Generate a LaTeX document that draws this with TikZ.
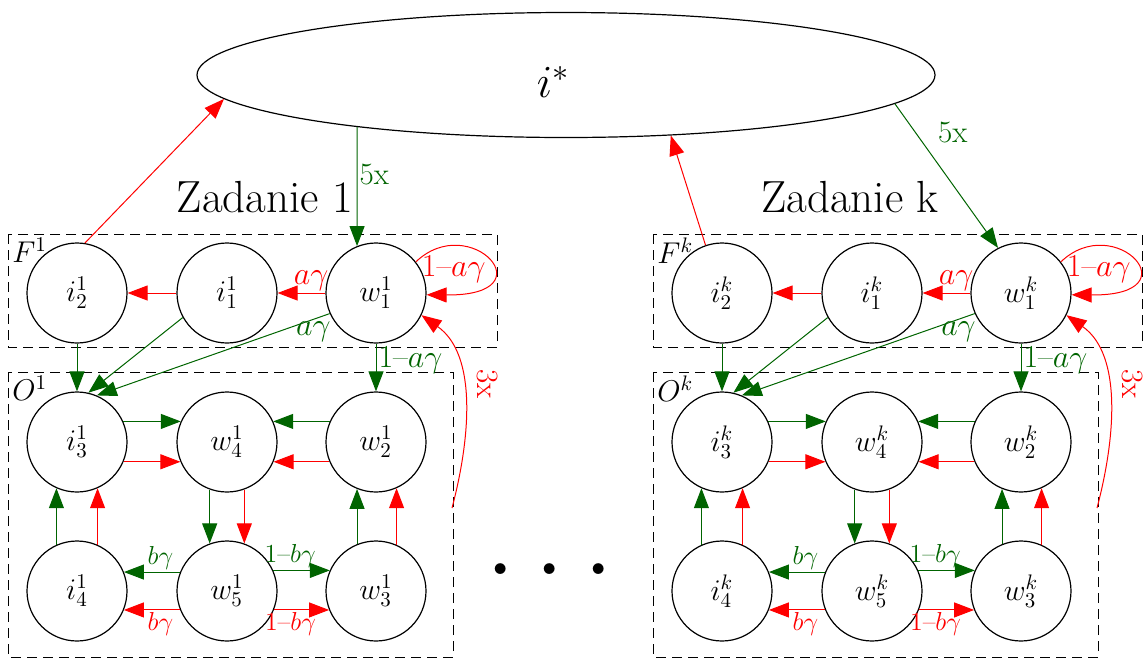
\documentclass[tikz,border=0pt]{standalone}
\usepackage{fix-cm}
\usetikzlibrary{shapes.geometric,arrows.meta}
\definecolor{dgreen}{RGB}{0,100,0}
\definecolor{rd}{RGB}{255,0,0}
\tikzset{
  st/.style={circle,draw,line width=0.6pt,minimum size=50pt,inner sep=0pt,font=\fontsize{15}{18}\selectfont},
  ga/.style={draw=dgreen,line width=0.5pt,-{Triangle[length=10pt,width=7.5pt]}},
  ra/.style={draw=rd,line width=0.5pt,-{Triangle[length=10pt,width=7.5pt]}},
  boxst/.style={draw,dash pattern=on 5pt off 3pt,line width=0.5pt},
  alab/.style={font=\fontsize{16}{19}\selectfont,inner sep=1pt},
  blab/.style={font=\fontsize{13}{15}\selectfont,inner sep=1pt},
  xlab/.style={font=\fontsize{15.5}{18}\selectfont,inner sep=1pt},
  corner/.style={anchor=north west,font=\fontsize{15}{18}\selectfont,inner sep=1pt},
}
\newcommand\taskgroup[2]{%
  \node[st] (#1i2) at (77,293) {$i^{#2}_2$};
  \node[st] (#1i1) at (227,293) {$i^{#2}_1$};
  \node[st] (#1w1) at (376,293) {$w^{#2}_1$};
  \node[st] (#1i3) at (77,442) {$i^{#2}_3$};
  \node[st] (#1w4) at (227,442) {$w^{#2}_4$};
  \node[st] (#1w2) at (376,442) {$w^{#2}_2$};
  \node[st] (#1i4) at (77,591) {$i^{#2}_4$};
  \node[st] (#1w5) at (227,591) {$w^{#2}_5$};
  \node[st] (#1w3) at (376,591) {$w^{#2}_3$};
  \draw[boxst] (8,234) rectangle (497,347);
  \draw[boxst] (8,372) rectangle (453,657);
  \node[corner] (#1F) at (10,236) {$F^{#2}$};
  \node[corner] (#1O) at (10,374) {$O^{#2}$};
  \coordinate (#1c3) at (452,508);
  % F edges
  \draw[ra] (#1w1) -- node[alab,text=rd,above,pos=0.3]{$a\gamma$} (#1i1);
  \draw[ra] (#1i1) -- (#1i2);
  \draw[ga] (#1i2) -- (#1i3);
  \draw[ga] (#1i1.209) -- (#1i3.77);
  \draw[ga] (#1w1.204) -- node[alab,text=dgreen,below,pos=0.07]{$a\gamma$} (#1i3.67);
  \draw[ga] (#1w1) -- node[alab,text=dgreen,right,pos=0.35]{1--$a\gamma$} (#1w2);
  \draw[ra] (#1w1.38) .. controls (470,210) and (550,296) .. node[alab,text=rd,pos=0.45,xshift=-15pt,yshift=-7pt]{1--$a\gamma$} (#1w1.358);
  \draw[ra] (#1c3) .. controls (470,440) and (478,355) .. node[xlab,text=rd,pos=0.585,anchor=south,rotate=-90,inner sep=4pt,yshift=3pt]{3x} (#1w1.334);
  % O edges
  \draw[ga] (#1i3.24) -- (#1w4.156);
  \draw[ra] (#1i3.-23) -- (#1w4.-157);
  \draw[ga] (#1w2.156) -- (#1w4.24);
  \draw[ra] (#1w2.-157) -- (#1w4.-23);
  \draw[ga] (#1w4.-110) -- (#1w5.110);
  \draw[ra] (#1w4.-70) -- (#1w5.70);
  \draw[ga] (#1i4.114) -- (#1i3.-114);
  \draw[ra] (#1i4.66) -- (#1i3.-66);
  \draw[ga] (#1w3.112) -- (#1w2.-112);
  \draw[ra] (#1w3.66) -- (#1w2.-66);
  \draw[ga] (#1w5.158) -- node[blab,text=dgreen,above,pos=0.35]{$b\gamma$} (#1i4.22);
  \draw[ra] (#1w5.-158) -- node[blab,text=rd,below,pos=0.35]{$b\gamma$} (#1i4.-22);
  \draw[ga] (#1w5.24) -- node[blab,text=dgreen,above,pos=0.3]{1--$b\gamma$} (#1w3.156);
  \draw[ra] (#1w5.-22) -- node[blab,text=rd,below,pos=0.3]{1--$b\gamma$} (#1w3.-158);
}
\begin{document}
\begin{tikzpicture}[x=0.5pt,y=-0.5pt]
  \useasboundingbox (0,0) rectangle (1147,660);
  \node[ellipse,draw,line width=0.6pt,minimum width=369pt,minimum height=62.5pt,inner sep=0pt] (istar) at (566,75) {};
  \node[font=\fontsize{23}{28}\selectfont,inner sep=0pt] (istarlbl) at (553,82) {$i^*$};
  \node[font=\fontsize{22.5}{27}\selectfont] (z1) at (265,197) {Zadanie 1};
  \node[font=\fontsize{22.5}{27}\selectfont] (zk) at (850,197) {Zadanie k};
  \node[inner sep=0pt] (dots) at (550,569) {\fontsize{56}{60}\selectfont$\ldots$};
  \begin{scope}
    \taskgroup{A}{1}
  \end{scope}
  \begin{scope}[xshift=322.5pt]
    \taskgroup{B}{k}
  \end{scope}
  \draw[ra] (Ai2.81) -- (istar.184);
  \draw[ga] (istar.194) -- node[xlab,text=dgreen,right,pos=0.4]{5x} (Aw1.112);
  \draw[ra] (Bi2.109) -- (istar.330);
  \draw[ga] (istar.355) -- node[xlab,text=dgreen,anchor=west,pos=0.2,xshift=10pt]{5x} (Bw1.117);
\end{tikzpicture}
\end{document}
